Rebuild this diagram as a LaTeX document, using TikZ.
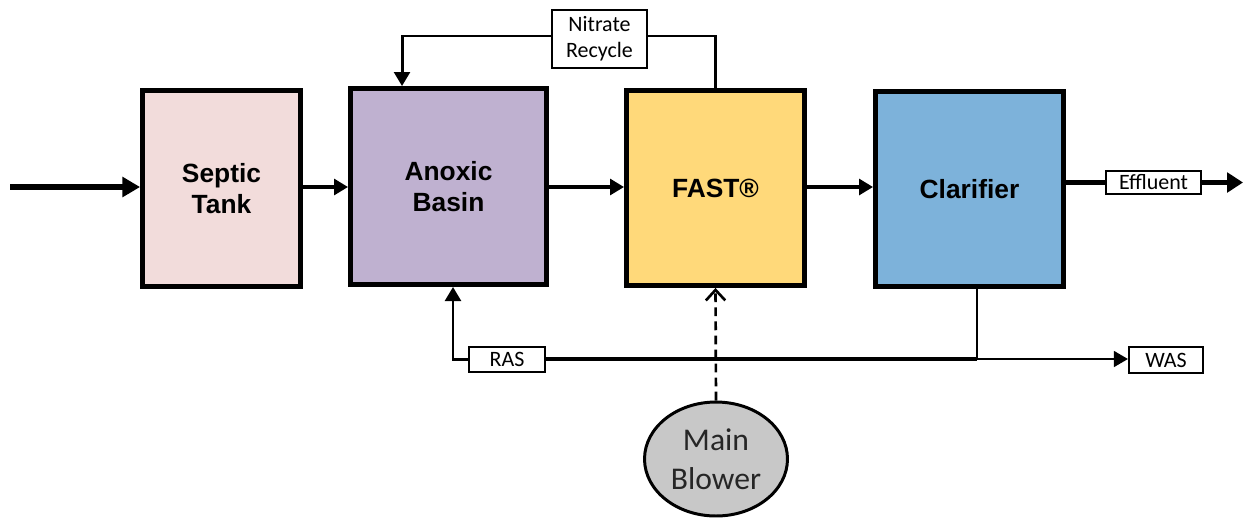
\documentclass[tikz,border=0pt]{standalone}
\usepackage{fontspec}
\setmainfont{Liberation Sans}
\newfontfamily\labelfont{Carlito}
\usetikzlibrary{arrows.meta,shapes.geometric}

\definecolor{septicfill}{RGB}{242,220,219}
\definecolor{anoxicfill}{RGB}{191,177,208}
\definecolor{fastfill}{RGB}{255,217,122}
\definecolor{clarfill}{RGB}{125,178,218}
\definecolor{blowerfill}{RGB}{200,200,200}

\begin{document}
\begin{tikzpicture}[
        x=0.02cm, y=-0.02cm,
        unit/.style={rectangle, draw, line width=2.8pt, font=\fontsize{15}{18}\selectfont\bfseries, align=center, inner sep=0pt},
        tag/.style={rectangle, draw, fill=white, line width=1.2pt, font=\labelfont\fontsize{12.5}{15}\selectfont, align=center, inner sep=0pt},
        flow/.style={line width=2.2pt, -{Triangle[length=8pt, width=9pt]}},
        pipe/.style={line width=1.7pt},
        air/.style={line width=1.5pt, dashed, dash pattern=on 5pt off 3pt, -{Straight Barb[length=6pt, width=11pt, line width=1.5pt]}}
    ]
        \useasboundingbox (0,0) rectangle (1243,518);

        \node[unit, fill=septicfill, minimum width=3.16cm, minimum height=3.92cm] (septic) at (221.5,188.5) {Septic\\Tank};
        \node[unit, fill=anoxicfill, minimum width=3.92cm, minimum height=3.92cm] (anoxic) at (448.5,186.5) {Anoxic\\Basin};
        \node[unit, fill=fastfill, minimum width=3.56cm, minimum height=3.9cm] (fast) at (715.5,188) {FAST®};
        \node[unit, fill=clarfill, minimum width=3.76cm, minimum height=3.9cm] (clar) at (969.5,189) {Clarifier};

        \node[tag, minimum width=1.9cm, minimum height=1.16cm] (nitrate) at (599.5,39) {Nitrate\\Recycle};
        \node[tag, minimum width=1.9cm, minimum height=0.46cm] (effluent) at (1153.5,182.5) {Effluent};
        \node[tag, minimum width=1.52cm, minimum height=0.5cm] (ras) at (507,359.5) {RAS};
        \node[tag, minimum width=1.48cm, minimum height=0.52cm] (was) at (1166,360) {WAS};
        \node[ellipse, draw, fill=blowerfill, line width=1.7pt, minimum width=2.86cm, minimum height=2.28cm, inner sep=0pt,
              align=center, font=\labelfont\fontsize{18}{22}\selectfont, text=black!85] (blower) at (716,459) {Main\\Blower};

        \coordinate (in) at (10,187);
        \coordinate (out) at (1243,182.5);
        \coordinate (split) at (977,359);

        % main line
        \draw[flow, line width=3.2pt, -{Triangle[length=10pt, width=11pt]}] (in) -- (in -| septic.west);
        \draw[flow] (septic.east |- in) -- (anoxic.west |- in);
        \draw[flow] (anoxic.east |- in) -- (fast.west |- in);
        \draw[flow] (fast.east |- in) -- (clar.west |- in);
        \draw[line width=2.8pt] (effluent.west -| clar.east) -- (effluent.west);
        \draw[flow, line width=2.8pt, -{Triangle[length=9pt, width=11pt]}] (effluent.east) -- (out);

        % nitrate recycle
        \draw[pipe] (fast.north) |- ([yshift=0.06cm]nitrate.east);
        \draw[pipe, -{Triangle[length=8pt, width=9pt]}] ([yshift=0.06cm]nitrate.west) -| ([xshift=-0.93cm]anoxic.north);

        % sludge
        \draw[line width=1.4pt] (split |- clar.south) -- (split);
        \draw[line width=2.8pt] (split) -- (ras.east |- split);
        \draw[line width=1.2pt, -{Triangle[length=8pt, width=9pt]}] (split) -- (was.west |- split);
        \draw[pipe, -{Triangle[length=8pt, width=9pt]}] (ras.west) -| ([xshift=0.09cm]anoxic.south);

        % air
        \draw[air] (blower.north) -- (fast.south);
\end{tikzpicture}
\end{document}
